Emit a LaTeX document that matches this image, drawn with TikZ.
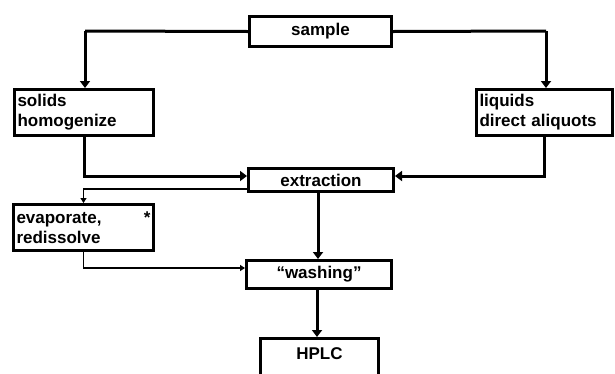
\documentclass[tikz,border=0pt]{standalone}
\usepackage{fontspec}
\setmainfont{Liberation Sans}
\usetikzlibrary{arrows.meta,calc}
\tikzset{
  box/.style={draw, line width=3pt, rectangle, inner sep=0pt,
    font=\fontsize{17}{20}\selectfont\bfseries},
  leftbox/.style={box, align=left, inner xsep=3pt},
  thickarrow/.style={line width=3pt, -{Triangle[width=10pt,length=7pt]}},
  thickline/.style={line width=3pt},
  thinarrow/.style={line width=1.2pt, -{Triangle[width=6pt,length=5pt]}}
}
\begin{document}
\begin{tikzpicture}[x=1pt,y=-1pt]
\clip (0,0) rectangle (615,373);
\fill[white] (0,0) rectangle (615,373);
\node[box, minimum width=142pt, minimum height=30pt] (sample) at (320.5,31.5) {sample};
\node[leftbox, text width=133pt, minimum height=46pt] (solids) at (84,112.5) {solids\\homogenize};
\node[leftbox, text width=130pt, minimum height=46pt] (liquids) at (544.5,112.5) {liquids\\direct aliquots};
\node[box, minimum width=145pt, minimum height=23pt] (extraction) at (321,180) {extraction};
\node[leftbox, text width=134pt, minimum height=46pt] (evap) at (83.5,227.5) {evaporate,\hfill*\hspace*{8pt}\\redissolve};
\node[box, minimum width=145pt, minimum height=28pt] (washing) at (319,274.5) {\textquotedblleft washing\textquotedblright};
\node[box, minimum width=118pt, minimum height=45pt, text depth=14pt] (hplc) at (319.5,361) {HPLC};
% connectors
\coordinate (sl) at (85,31);
\coordinate (sr) at (546,31);
\draw[thickline] (sample.west) -- (sl);
\draw[thickarrow] (sl) -- (sl |- solids.north);
\draw[thickline] (sample.east) -- (sr);
\draw[thickarrow] (sr) -- (sr |- liquids.north);
\draw[thickarrow] (solids.south) |- ([yshift=4pt]extraction.west);
\draw[thickarrow] (liquids.south) |- ([yshift=4pt]extraction.east);
\draw[thinarrow] ([yshift=-9pt]extraction.west) -| (evap.north);
\draw[thinarrow] (evap.south) |- ([yshift=6.5pt]washing.west);
\draw[thickarrow] ([xshift=-3pt]extraction.south) -- ([xshift=-3pt]extraction.south |- washing.north);
\draw[thickarrow] ([xshift=-2pt]washing.south) -- ([xshift=-2pt]washing.south |- hplc.north);
\end{tikzpicture}
\end{document}
